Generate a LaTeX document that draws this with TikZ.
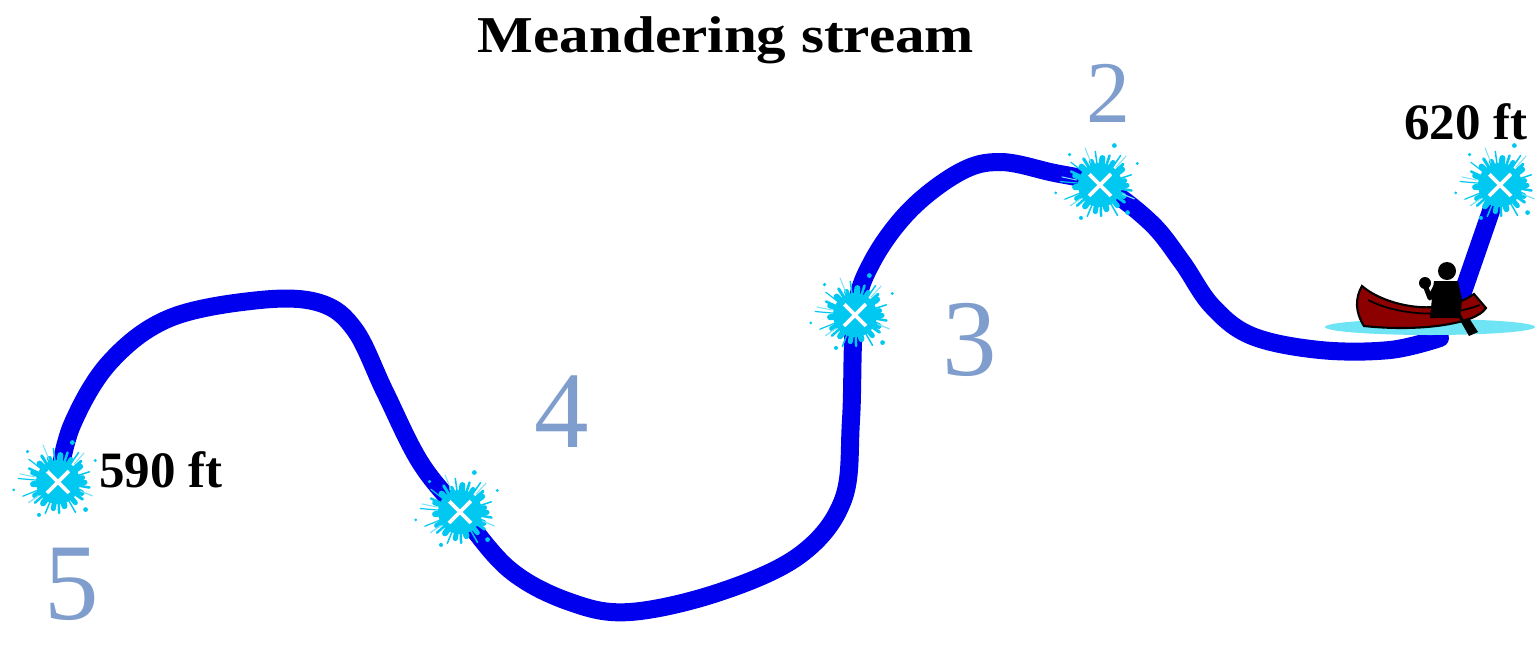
\documentclass[tikz,border=0pt]{standalone}
\usepackage{fontspec}
\setmainfont{Liberation Serif}
\usepackage{graphicx}
\definecolor{streamblue}{RGB}{0,0,238}
\definecolor{splashcyan}{RGB}{0,200,240}
\definecolor{splashlight}{RGB}{120,225,248}
\definecolor{numblue}{RGB}{128,158,205}
\definecolor{hullred}{RGB}{140,0,0}
\definecolor{waterblue}{RGB}{110,228,245}

% splatter spikes and droplets around a marker node
\newcommand{\splatter}[1]{%
  \begin{scope}[shift={(#1.center)}]
    \foreach \a/\r/\w in {0/27/5, 25/26/6, 50/27/5, 75/25/6, 100/27/5, 125/26/6,
        150/27/5, 175/25/6, 200/27/5, 225/26/6, 250/25/5, 275/27/6, 300/26/5,
        325/27/6, 350/25/5}
      \draw[splashcyan, line width=\w*0.2845pt, line cap=round] (\a:18) -- (\a:\r);
    \foreach \a/\r/\w in {10/32/2.5, 35/30/3, 60/35/1.5, 88/31/2.5, 112/34/1.5,
        138/31/2.5, 158/38/1.2, 185/40/1.2, 205/32/2.5, 218/37/1.2,
        238/31/3, 262/34/1.5, 288/31/2.5, 305/36/1.5, 318/31/3, 342/33/1.5}
      \draw[splashcyan, line width=\w*0.2845pt, line cap=round] (\a:20) -- (\a:\r);
    \foreach \a/\r/\w in {22/37/1.2, 145/36/1.2, 192/39/1, 248/40/1, 312/39/1}
      \draw[splashlight, line width=\w*0.2845pt, line cap=round] (\a:24) -- (\a:\r);
    \foreach \a/\r/\s in {45/39/2.4, 120/38/2, 225/43/1.8, 290/42/2.4, 170/45/1.5, 330/43/1.6}
      \fill[splashcyan] (\a:\r) circle (\s);
  \end{scope}}

\tikzset{
  stream/.style={draw=streamblue, line width=18*0.2845pt, line cap=round, line join=round},
  marker/.style={circle, fill=splashcyan, minimum size=0.44cm, inner sep=0pt,
    path picture={
      \draw[white, line width=1.1pt]
        ([shift={(-11,-11)}]path picture bounding box.center) -- ++(22,22)
        ([shift={(-11,11)}]path picture bounding box.center) -- ++(22,-22);}},
  bignum/.style={text=numblue, font=\fontsize{31}{33}\selectfont, inner sep=0pt},
  elev/.style={font=\bfseries\fontsize{14.5}{17}\selectfont, inner sep=0pt},
}

\begin{document}
\begin{tikzpicture}[x=0.01cm, y=-0.01cm]
  \useasboundingbox (0,0) rectangle (1535,645);

  % marker positions along the stream
  \coordinate (p5) at (58,482);
  \coordinate (p4) at (460,512);
  \coordinate (p3) at (855,315);
  \coordinate (p2) at (1100,185);
  \coordinate (p1) at (1500,185);
  \coordinate (mouth) at (1440,338);
  \coordinate (rise) at (1456,312);

  % the meandering stream
  \draw[stream] plot[smooth, tension=0.6] coordinates {
    (p5) (72,425) (110,362) (170,318) (260,300) (320,303) (355,330)
    (385,392) (420,462) (p4) (510,570) (570,602) (630,612) (720,592)
    (800,555) (843,500) (851,420) (p3) (872,262) (910,210) (960,172)
    (1000,162) (1050,172) (p2) (1150,222) (1182,262) (1212,306)
    (1252,336) (1320,350) (1390,350) (mouth)};
  \draw[stream] (rise) -- (p1);

  % water and canoe
  \fill[waterblue] (1430,327) ellipse [x radius=105, y radius=8];
  \draw[black, line width=0.6pt, fill=hullred]
    (1362,286) .. controls (1385,306) and (1440,318) .. (1474,294)
    -- (1486,308) .. controls (1476,324) and (1420,332) .. (1364,326)
    .. controls (1355,312) and (1355,298) .. cycle;
  \draw[black, line width=0.5pt] (1368,300) .. controls (1400,316) and (1445,318) .. (1480,305);
  % paddler
  \fill[black] (1447,271) circle (9);
  \fill[black] (1434,281) -- (1458,281) -- (1462,300) -- (1460,318)
    -- (1430,318) -- (1432,298) -- cycle;
  \draw[black, line width=5*0.2845pt, line cap=round, line join=round]
    (1436,286) -- (1430,298) -- (1425,285);
  \fill[black] (1425,283) circle (6);
  \draw[black, line width=3*0.2845pt, line cap=round] (1448,296) -- (1468,330);
  \fill[black] (1461,322) -- (1469,318) -- (1478,332) -- (1469,336) -- cycle;

  % markers
  \foreach \m in {5,4,3,2,1} {
    \node[marker] (m\m) at (p\m) {};
    \splatter{m\m}
  }

  % labels
  \node[font=\bfseries\fontsize{14}{16}\selectfont, inner sep=0pt] (title) at (726,40)
    {\scalebox{1.2}[1.05]{Meandering stream}};
  \node[elev] (e590) at (161,470) {590 ft};
  \node[elev] (e620) at (1466,122) {620 ft};
  \node[bignum] (n5) at (72,584) {5};
  \node[bignum] (n4) at (562,412) {4};
  \node[bignum] (n3) at (970,340) {3};
  \node[bignum, font=\fontsize{25}{27}\selectfont] (n2) at (1108,93) {2};
\end{tikzpicture}
\end{document}
